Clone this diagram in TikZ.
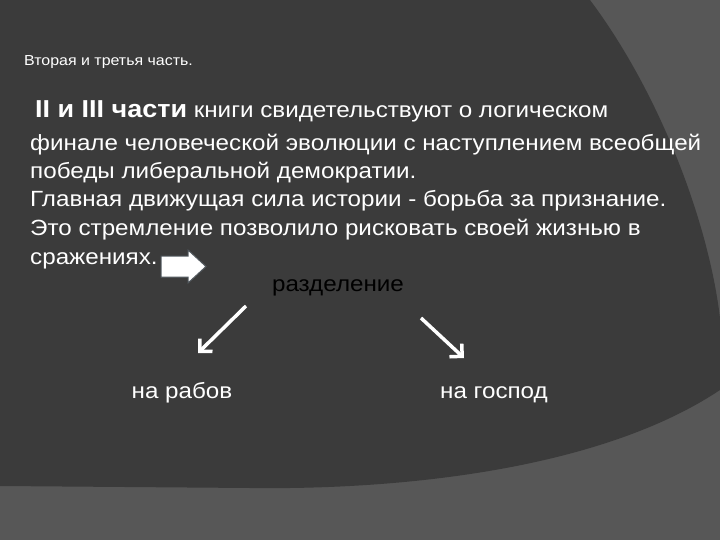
\documentclass[tikz,border=0pt]{standalone}
\usepackage{fontspec}
\setmainfont{Liberation Sans}[FakeStretch=1.1]
\usetikzlibrary{arrows.meta}
\definecolor{bgdark}{HTML}{3B3B3B}
\definecolor{bglight}{HTML}{575757}
\tikzset{
  body/.style={text=white,font=\fontsize{22}{28}\selectfont,anchor=base west,inner sep=0},
  lbl/.style={font=\fontsize{22}{24}\selectfont,inner sep=0,anchor=base},
  split/.style={draw=white,line width=3.5pt,-{Straight Barb[length=9pt,width=18pt,line width=3.5pt]}}
}
\begin{document}
\begin{tikzpicture}[x=1pt,y=-1pt]
\useasboundingbox (0,0) rectangle (720,540);
\fill[bglight] (0,0) rectangle (720,540);
\fill[bgdark] (0,0) -- (590,0) .. controls (680,120) and (735,300) .. (720,390)
  .. controls (600,470) and (400,490) .. (250,488) -- (0,486) -- cycle;
\node[text=white,font=\fontsize{14.5}{16}\selectfont,anchor=base west,inner sep=0] (t) at (24,66) {Вторая и третья часть.};
\node[body] (l1) at (35,118) {{\fontsize{24.5}{28}\selectfont\textbf{II и III части}} книги свидетельствуют о логическом};
\node[body] (l2) at (30,151) {финале человеческой эволюции с наступлением всеобщей};
\node[body] (l3) at (30,179) {победы либеральной демократии.};
\node[body] (l4) at (30,207) {Главная движущая сила истории - борьба за признание.};
\node[body] (l5) at (30,236) {Это стремление позволило рисковать своей жизнью в};
\node[body] (l6) at (30,264) {сражениях.};
\fill[white,draw=gray!60!cyan!40!black,line width=1pt] (161,256) -- (188,256) -- (188,250) -- (206,266.5) -- (188,283) -- (188,277) -- (161,277) -- cycle;
\node[lbl,text=black] (r) at (338,291) {разделение};
\node[lbl,text=white] (a) at (182,398) {на рабов};
\node[lbl,text=white] (b) at (494,398) {на господ};
\coordinate (s1) at (246,306);
\coordinate (e1) at (198,353);
\coordinate (s2) at (421,318);
\coordinate (e2) at (464,358);
\draw[split] (s1) -- (e1);
\draw[split] (s2) -- (e2);
\end{tikzpicture}
\end{document}
